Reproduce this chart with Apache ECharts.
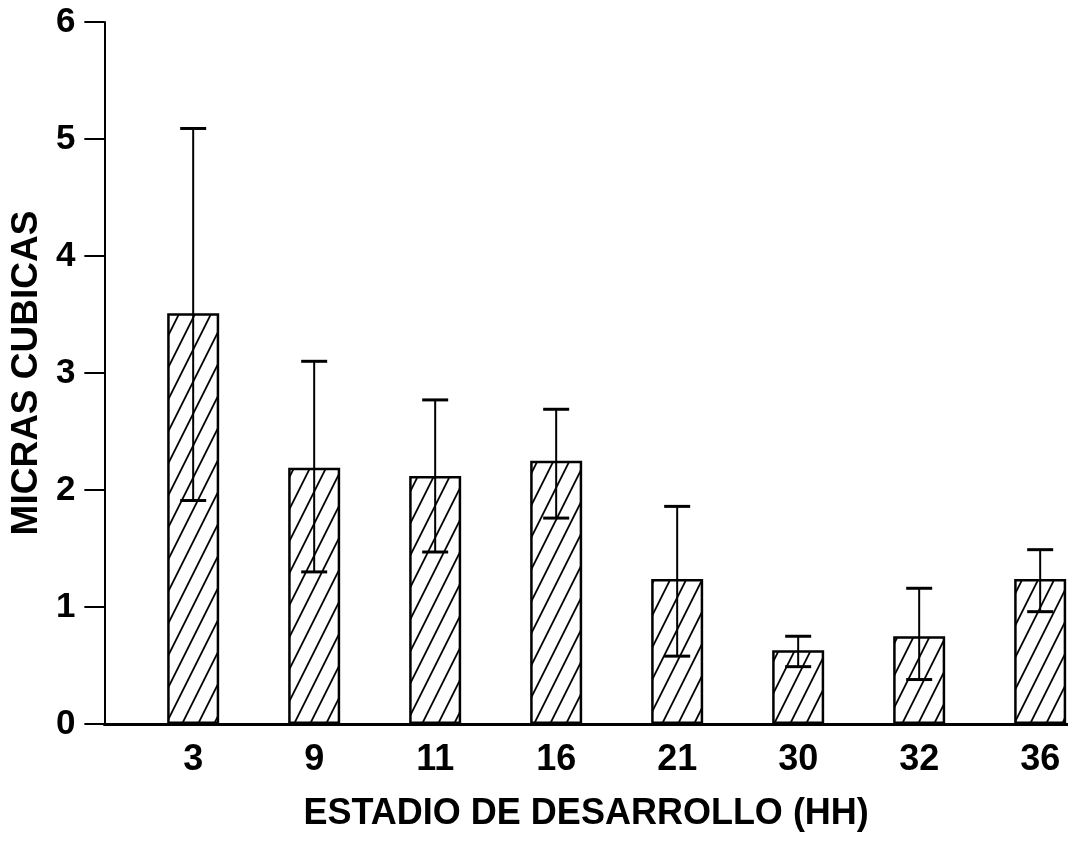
<!DOCTYPE html>
<html>
<head>
<meta charset="utf-8">
<script src="https://cdn.jsdelivr.net/npm/echarts@6/dist/echarts.min.js"></script>
<style>
  html, body { margin: 0; padding: 0; background: #fff; }
  #chart { width: 1068px; height: 846px; }
</style>
</head>
<body>
<div id="chart"></div>
<script>
// Developmental stage (HH) on the x axis
const categories = ['3', '9', '11', '16', '21', '30', '32', '36'];
// Mean volume (cubic microns) per stage
const means = [3.51, 2.19, 2.12, 2.25, 1.24, 0.63, 0.75, 1.24];
// Upper and lower ends of the error bars
const errUpper = [5.09, 3.10, 2.77, 2.69, 1.86, 0.75, 1.16, 1.49];
const errLower = [1.91, 1.30, 1.47, 1.76, 0.58, 0.49, 0.38, 0.96];

const FONT = '"Liberation Sans", Arial, Helvetica, sans-serif';

// Diagonal hatch tile used as the bar fill
function makeHatch() {
  const w = 16, h = 32;
  const c = document.createElement('canvas');
  c.width = w; c.height = h;
  const ctx = c.getContext('2d');
  ctx.fillStyle = '#fff';
  ctx.fillRect(0, 0, w, h);
  ctx.strokeStyle = '#000';
  ctx.lineWidth = 1.8;
  for (const dx of [-w, 0, w]) {
    ctx.beginPath();
    ctx.moveTo(dx - w, 2 * h);
    ctx.lineTo(dx + 2 * w, -h);
    ctx.stroke();
  }
  return c;
}

const chart = echarts.init(document.getElementById('chart'), null, { renderer: 'canvas' });

const barData = means.map((v, i) => [i, v]);
const errData = means.map((v, i) => [i, errLower[i], errUpper[i]]);

chart.setOption({
  backgroundColor: '#ffffff',
  animation: false,
  grid: { left: 100, right: 0, top: 22, bottom: 122, containLabel: false },
  xAxis: {
    type: 'value',
    min: -0.734,
    max: 7.23,
    splitLine: { show: false },
    axisTick: { show: false },
    axisLine: { show: true, onZero: false, lineStyle: { color: '#000', width: 3 } },
    axisLabel: {
      customValues: categories.map((_, i) => i),
      formatter: v => categories[Math.round(v)],
      color: '#000',
      fontFamily: FONT,
      fontWeight: 'bold',
      fontSize: 36,
      margin: 18
    },
    name: 'ESTADIO DE DESARROLLO (HH)',
    nameLocation: 'middle',
    nameGap: 72,
    nameTextStyle: { color: '#000', fontFamily: FONT, fontWeight: 'bold', fontSize: 36 }
  },
  yAxis: {
    type: 'value',
    min: 0,
    max: 6,
    interval: 1,
    splitLine: { show: false },
    axisLine: { show: true, onZero: false, lineStyle: { color: '#000', width: 2 } },
    axisTick: { show: true, inside: false, length: 20, lineStyle: { color: '#000', width: 2 } },
    axisLabel: {
      color: '#000',
      fontFamily: FONT,
      fontWeight: 'bold',
      fontSize: 35,
      margin: 29
    },
    name: 'MICRAS CUBICAS',
    nameLocation: 'middle',
    nameRotate: 90,
    nameGap: 52,
    nameTextStyle: { color: '#000', fontFamily: FONT, fontWeight: 'bold', fontSize: 37 }
  },
  series: [
    {
      type: 'bar',
      data: barData,
      barWidth: 52,
      itemStyle: {
        color: { image: makeHatch(), repeat: 'repeat' },
        borderColor: '#000',
        borderWidth: 2.5
      },
      z: 2
    },
    {
      type: 'custom',
      data: errData,
      encode: { x: 0, y: [1, 2] },
      z: 5,
      renderItem: function (params, api) {
        const x = api.value(0);
        const lo = api.coord([x, api.value(1)]);
        const hi = api.coord([x, api.value(2)]);
        const half = 13;
        const stroke = { stroke: '#000', lineWidth: 2 };
        const capStroke = { stroke: '#000', lineWidth: 3 };
        return {
          type: 'group',
          children: [
            { type: 'line', shape: { x1: lo[0], y1: lo[1], x2: hi[0], y2: hi[1] }, style: stroke },
            { type: 'line', shape: { x1: hi[0] - half, y1: hi[1], x2: hi[0] + half, y2: hi[1] }, style: capStroke },
            { type: 'line', shape: { x1: lo[0] - half, y1: lo[1], x2: lo[0] + half, y2: lo[1] }, style: capStroke }
          ]
        };
      }
    }
  ]
});
</script>
</body>
</html>
